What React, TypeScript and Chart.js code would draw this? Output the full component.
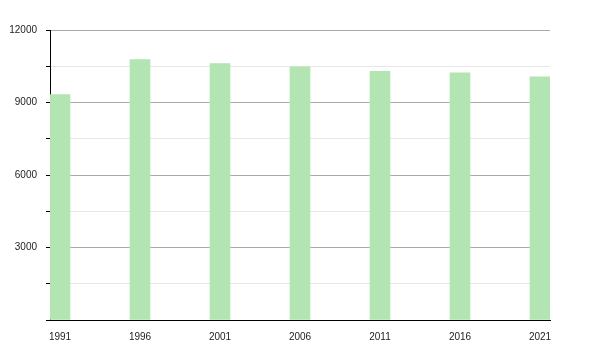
import React, { useEffect, useRef } from "react";
import { Chart, registerables } from "chart.js";

Chart.register(...registerables);

const years = [1991, 1996, 2001, 2006, 2011, 2016, 2021];
const population = [9330, 10780, 10615, 10480, 10285, 10230, 10065];
const yTickLabels = [3000, 6000, 9000, 12000];

export default function App() {
  const ref = useRef<HTMLCanvasElement | null>(null);

  useEffect(() => {
    if (!ref.current) return;
    const chart = new Chart(ref.current, {
      type: "bar",
      data: {
        datasets: [
          {
            data: years.map((y, i) => ({ x: y, y: population[i] })),
            backgroundColor: "#b2e5b2",
            borderWidth: 0,
            barThickness: 20,
          },
        ],
      },
      options: {
        animation: false,
        responsive: false,
        maintainAspectRatio: false,
        layout: { padding: { top: 30, right: 50, left: 0, bottom: 0 } },
        plugins: { legend: { display: false }, tooltip: { enabled: false } },
        scales: {
          x: {
            type: "linear",
            offset: false,
            min: 1990.375,
            max: 2021.625,
            afterBuildTicks: (scale: any) => {
              scale.ticks = years.map((v) => ({ value: v }));
            },
            afterFit: (scale: any) => {
              scale.height = 30;
            },
            grid: { display: false },
            border: { display: true, color: "#000", width: 1 },
            ticks: {
              color: "#222",
              font: { family: "Liberation Sans", size: 10 },
              padding: 3,
              maxRotation: 0,
              autoSkip: false,
              callback: (v: any) => String(v),
            },
          },
          y: {
            min: 0,
            max: 12000,
            afterFit: (scale: any) => {
              scale.width = 50;
            },
            grid: {
              color: (ctx: any) =>
                ctx.tick && ctx.tick.value === 0
                  ? "rgba(0,0,0,0)"
                  : ctx.tick && ctx.tick.value % 3000 === 0
                  ? "#aaaaaa"
                  : "#e6e6e6",
              tickColor: "#000",
              tickLength: 4,
            },
            border: { display: true, color: "#000", width: 1 },
            ticks: {
              stepSize: 1500,
              color: "#222",
              font: { family: "Liberation Sans", size: 10 },
              padding: 9,
              autoSkip: false,
              callback: (v: any) => (yTickLabels.includes(v) ? String(v) : ""),
            },
          },
        },
      },
    });
    return () => chart.destroy();
  }, []);

  return (
    <div style={{ position: "fixed", left: 0, top: 0, width: 600, height: 350, background: "#fff" }}>
      <canvas ref={ref} width={600} height={350} style={{ width: 600, height: 350 }} />
    </div>
  );
}
